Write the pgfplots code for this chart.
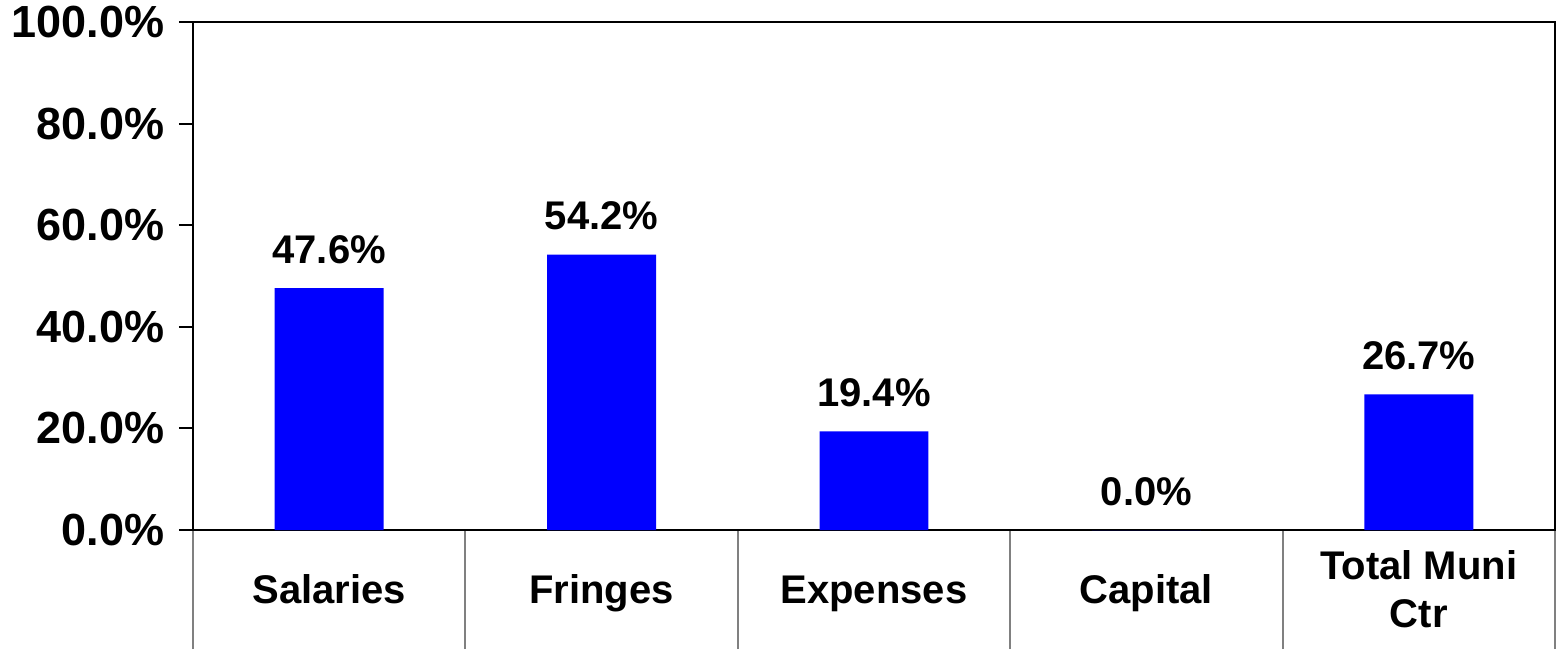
\documentclass[border=0pt]{standalone}
\usepackage{pgfplots}
\pgfplotsset{compat=1.18}
\usepackage{fontspec}
\setmainfont{Liberation Sans}
\begin{document}
\begin{tikzpicture}
\begin{axis}[
  name=ax,
  scale only axis,
  width=681pt, height=254pt,
  xmin=-0.5, xmax=4.5, ymin=0, ymax=100,
  axis line style={black, line width=1pt},
  tick align=outside,
  tick pos=left,
  ytick={0,20,40,60,80,100},
  yticklabels={0.0\%,20.0\%,40.0\%,60.0\%,80.0\%,100.0\%},
  ytick style={black, line width=1pt, /pgfplots/major tick length=7pt},
  yticklabel style={font=\fontsize{22.5}{27}\selectfont\bfseries, inner sep=0pt, xshift=-10pt},
  xtick={-0.5,0.5,1.5,2.5,3.5,4.5},
  xticklabels={},
  xtick style={gray, line width=1pt, /pgfplots/major tick length=59.5pt},
  extra x ticks={0,1,2,3,4},
  extra x tick labels={Salaries\strut,Fringes\strut,Expenses\strut,Capital\strut,{Total Muni\strut\\Ctr\strut}},
  extra x tick style={/pgfplots/major tick length=0pt, tick style={draw=none},
    xticklabel style={font=\fontsize{20}{24}\selectfont\bfseries, align=center, anchor=center, inner sep=0pt, yshift=-32pt}},
  ybar, bar width=0.4,
  nodes near coords={\pgfmathprintnumber[fixed,fixed zerofill,precision=1,assume math mode=true]{\pgfplotspointmeta}\%},
  every node near coord/.append style={font=\fontsize{20}{24}\selectfont\bfseries, inner sep=0pt, anchor=south, yshift=12pt},
]
\addplot[fill={rgb,255:red,0;green,0;blue,255}, draw=none] coordinates {(0,47.6) (1,54.2) (2,19.4) (3,0.0) (4,26.7)};
\end{axis}
\pgfresetboundingbox
\path (ax.south west) ++(-96.5pt,-59.5pt) rectangle ++(780pt,324.5pt);
\end{tikzpicture}
\end{document}
